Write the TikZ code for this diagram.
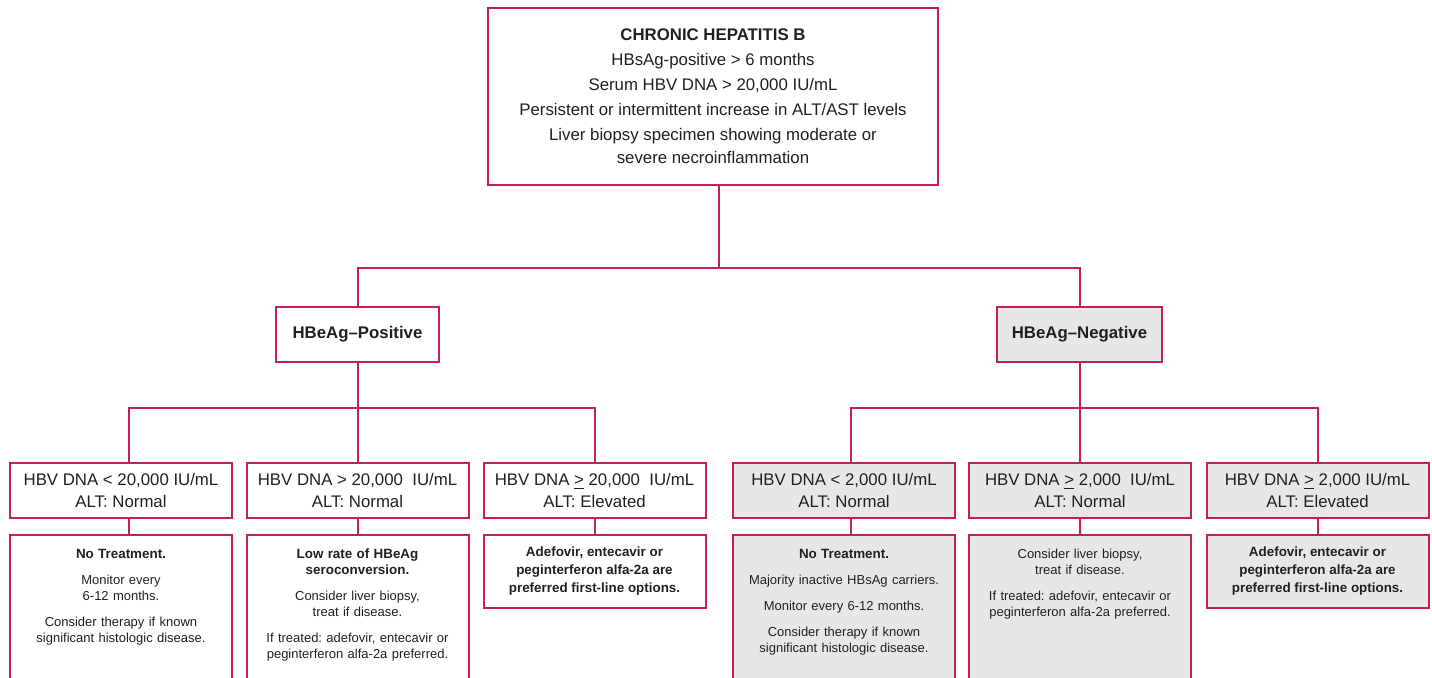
\documentclass[tikz,border=0pt]{standalone}
\usepackage{fontspec}
\setmainfont{Liberation Sans}
\frenchspacing
\definecolor{hepred}{RGB}{198,30,88}
\definecolor{hepgray}{RGB}{230,231,232}
\definecolor{heptext}{RGB}{35,31,32}
\begin{document}
\begin{tikzpicture}[x=0.5pt, y=-0.5pt, line join=miter,
    box/.style={draw=hepred, line width=1pt, fill=white, text=heptext, align=center, inner sep=0pt},
    shade/.style={fill=hepgray},
    link/.style={draw=hepred, line width=1pt},
    status/.style={box, minimum height=27.5pt, font=\fontsize{8.4}{10}\selectfont\bfseries},
    level/.style={box, minimum width=111pt, minimum height=27.5pt, font=\fontsize{8.4}{11}\selectfont},
    advice/.style={box, anchor=north, minimum width=111pt, font=\fontsize{6.5}{8}\selectfont},
    choice/.style={advice, minimum height=36.5pt, font=\fontsize{6.7}{9}\selectfont\bfseries},
    tall/.style={advice, text width=106pt, text height=0pt, text depth=80pt, inner ysep=11.5pt}]
  \useasboundingbox (0,0) rectangle (1432,677);
  \clip (0,0) rectangle (1432,677);
  % top
  \node[box, minimum width=225pt, minimum height=88.5pt, font=\fontsize{8.4}{11.5}\selectfont] (top) at (713,96.5)
    {\textbf{CHRONIC HEPATITIS B}\\[1pt] HBsAg-positive > 6 months\\[1pt] Serum HBV DNA > 20,000 IU/mL\\[1pt]
     Persistent or intermittent increase in ALT/AST levels\\[1pt] Liver biopsy specimen showing moderate or\\ severe necroinflammation};
  % HBeAg status
  \node[status, minimum width=81.5pt] (pos) at (357.5,334.5) {HBeAg--Positive};
  \node[status, shade, minimum width=82.5pt] (neg) at (1079.5,334.5) {HBeAg--Negative};
  % DNA / ALT levels
  \node[level] (p1) at (121,490.5) {HBV DNA < 20,000 IU/mL\\ALT: Normal};
  \node[level] (p2) at (357.5,490.5) {HBV DNA > 20,000\ \ IU/mL\\ALT: Normal};
  \node[level] (p3) at (594.5,490.5) {HBV DNA \underline{>} 20,000\ \ IU/mL\\ALT: Elevated};
  \node[level, shade] (n1) at (844,490.5) {HBV DNA < 2,000 IU/mL\\ALT: Normal};
  \node[level, shade] (n2) at (1080,490.5) {HBV DNA \underline{>} 2,000\ \ IU/mL\\ALT: Normal};
  \node[level, shade] (n3) at (1317.5,490.5) {HBV DNA \underline{>} 2,000 IU/mL\\ALT: Elevated};
  % management
  \node[tall] (pa1) at (121,534) {{\fontsize{6.7}{8}\selectfont\bfseries No Treatment.}\\[5pt] Monitor every\\6-12 months.\\[5pt]
    Consider therapy if known\\significant histologic disease.};
  \node[tall] (pa2) at (357.5,534) {{\fontsize{6.7}{8}\selectfont\bfseries Low rate of HBeAg}\\{\fontsize{6.7}{8}\selectfont\bfseries seroconversion.}\\[5pt]
    Consider liver biopsy,\\treat if disease.\\[5pt]
    If treated: adefovir, entecavir or\\peginterferon alfa-2a preferred.};
  \node[choice] (pa3) at (594.5,534) {Adefovir, entecavir or\\peginterferon alfa-2a are\\preferred first-line options.};
  \node[tall, shade] (na1) at (844,534) {{\fontsize{6.7}{8}\selectfont\bfseries No Treatment.}\\[5pt] Majority inactive HBsAg carriers.\\[5pt]
    Monitor every 6-12 months.\\[5pt] Consider therapy if known\\significant histologic disease.};
  \node[tall, shade] (na2) at (1080,534) {Consider liver biopsy,\\treat if disease.\\[5pt]
    If treated: adefovir, entecavir or\\peginterferon alfa-2a preferred.};
  \node[choice, shade] (na3) at (1317.5,534) {Adefovir, entecavir or\\peginterferon alfa-2a are\\preferred first-line options.};
  % connectors
  \coordinate (busA) at (0,268);
  \coordinate (busB) at (0,408);
  \draw[link] ([xshift=3pt]top.south) -- ([xshift=3pt]top.south |- busA);
  \draw[link] (pos.north) -- (pos.north |- busA) -- (neg.north |- busA) -- (neg.north);
  \draw[link] (pos.south) -- (pos.south |- busB);
  \draw[link] (neg.south) -- (neg.south |- busB);
  \draw[link] ([xshift=4pt]p1.north) -- ([xshift=4pt]p1.north |- busB) -- (p3.north |- busB) -- (p3.north);
  \draw[link] (p2.north) -- (p2.north |- busB);
  \draw[link] ([xshift=3.5pt]n1.north) -- ([xshift=3.5pt]n1.north |- busB) -- (n3.north |- busB) -- (n3.north);
  \draw[link] (n2.north) -- (n2.north |- busB);
  \draw[link] ([xshift=4pt]p1.south) -- ([xshift=4pt]pa1.north);
  \draw[link] (p2.south) -- (pa2.north);
  \draw[link] (p3.south) -- (pa3.north);
  \draw[link] ([xshift=3.5pt]n1.south) -- ([xshift=3.5pt]na1.north);
  \draw[link] (n2.south) -- (na2.north);
  \draw[link] (n3.south) -- (na3.north);
\end{tikzpicture}
\end{document}
